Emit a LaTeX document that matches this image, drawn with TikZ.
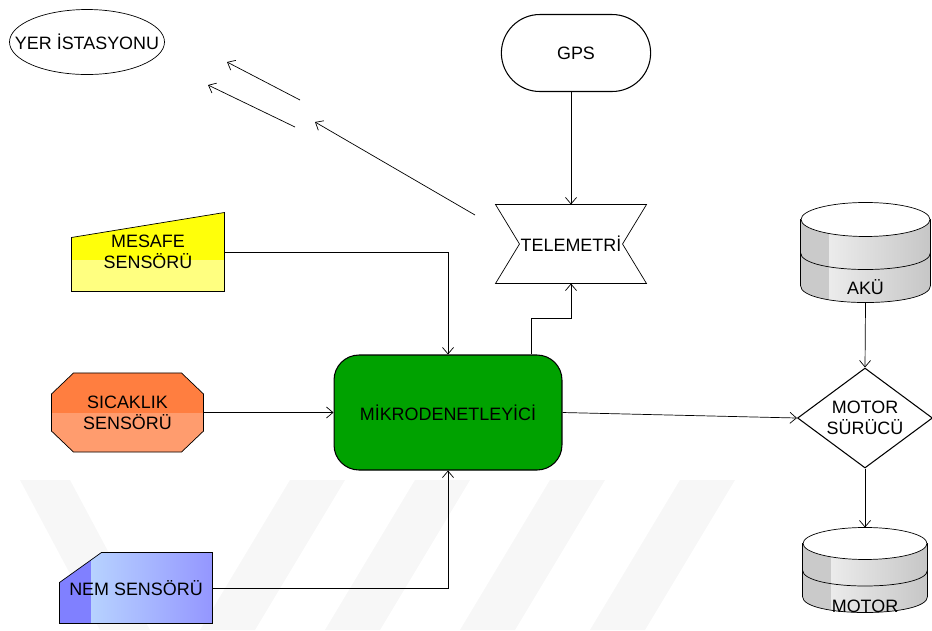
\documentclass[tikz,border=0pt]{standalone}
\usepackage{fontspec}
\setmainfont{Liberation Sans}
\usetikzlibrary{arrows.meta,shapes.geometric,shapes.misc,backgrounds}
\definecolor{mcugreen}{RGB}{0,162,0}
\definecolor{mesafetop}{RGB}{255,255,10}
\definecolor{mesafebot}{RGB}{255,255,128}
\definecolor{sicaktop}{RGB}{255,126,64}
\definecolor{sicakbot}{RGB}{255,156,110}
\definecolor{nemdark}{RGB}{128,128,255}
\definecolor{nemlight}{RGB}{192,226,255}
\definecolor{nemright}{RGB}{148,150,255}
\definecolor{drumdark}{RGB}{202,202,202}
\definecolor{drumlight}{RGB}{246,246,246}
\definecolor{drumgray}{RGB}{198,198,198}
\definecolor{bandgray}{RGB}{247,247,247}

% drum around a box node: #1 node, #2 half width, #3 ellipse half height
\newcommand\drum[3]{%
  \draw[fill=drumdark, path picture={
      \shade[left color=drumlight, right color=drumgray]
        ([xshift=0.58cm]path picture bounding box.south west) rectangle (path picture bounding box.north east);}]
    ([yshift=-#3]#1.north west) -- ([yshift=#3]#1.south west)
    .. controls ([yshift=-#3/3]#1.south west) and ([yshift=-#3/3]#1.south east) .. ([yshift=#3]#1.south east)
    -- ([yshift=-#3]#1.north east) -- cycle;
  \draw (#1.west) .. controls ([yshift=-4*#3/3]#1.west) and ([yshift=-4*#3/3]#1.east) .. (#1.east);
  \draw[fill=white] ([yshift=-#3]#1.north) ellipse [x radius=#2, y radius=#3];
}

\begin{document}
\begin{tikzpicture}[x=0.02cm, y=-0.02cm, line width=0.6pt,
  font=\fontsize{10.2}{12}\selectfont,
  shapebox/.style={align=center, inner sep=0pt},
  arr/.style={-{Straight Barb[length=1.3mm,width=2.2mm]}}
]
  \useasboundingbox (0,0) rectangle (932,630);

  \node[draw, fill=mcugreen, rounded corners=0.5cm, minimum width=4.56cm, minimum height=2.3cm] (mcu) at (448,412.5) {MİKRODENETLEYİCİ};
  \node[draw, rounded rectangle, minimum width=3.22cm, minimum height=1.54cm] (gps) at (576,53) {GPS};
  \node[shapebox, minimum width=3cm, minimum height=1.56cm] (tele) at (571,244) {TELEMETRİ};
  \node (yer) at (87,42) {YER İSTASYONU};
  \node[shapebox, minimum width=3.04cm, minimum height=1.56cm] (mesafe) at (148,252) {MESAFE\\SENSÖRÜ};
  \node[shapebox, minimum width=3.02cm, minimum height=1.56cm] (sicak) at (127.5,412.5) {SICAKLIK\\SENSÖRÜ};
  \node[shapebox, minimum width=3.04cm, minimum height=1.4cm] (nem) at (136,588) {NEM SENSÖRÜ};
  \node[draw, diamond, aspect=1.35, shapebox, minimum width=2.7cm, minimum height=2cm] (surucu) at (865,418) {MOTOR\\SÜRÜCÜ};
  \node[minimum width=2.58cm, minimum height=1.98cm] (aku) at (865.5,252.5) {};
  \node[minimum width=2.48cm, minimum height=1.68cm] (motor) at (865,570) {};
  \node (akuyazi) at ([yshift=0.3cm]aku.south) {AKÜ};
  \node (motoryazi) at ([yshift=0.12cm]motor.south) {MOTOR};

  \begin{pgfonlayer}{background}
    % faint bands at the bottom
    \fill[bandgray] (20,480) -- (70,480) -- (150,630) -- (100,630) -- cycle;
    \foreach \a in {290,415,550,680}
      \fill[bandgray] (\a,480) -- (\a+55,480) -- (\a-35,630) -- (\a-90,630) -- cycle;

    \draw[fill=mesafetop, path picture={\fill[mesafebot] ([yshift=0.64cm]mesafe.south west) rectangle (mesafe.south east);}]
      (mesafe.south west) -- ([yshift=-0.5cm]mesafe.north west) -- (mesafe.north east) -- (mesafe.south east) -- cycle;
    \draw[fill=sicaktop, path picture={\fill[sicakbot] (sicak.west) rectangle (sicak.south east);}]
      ([xshift=0.44cm]sicak.north west) -- ([xshift=-0.44cm]sicak.north east) -- ([yshift=-0.42cm]sicak.north east)
      -- ([yshift=0.42cm]sicak.south east) -- ([xshift=-0.44cm]sicak.south east) -- ([xshift=0.44cm]sicak.south west)
      -- ([yshift=0.42cm]sicak.south west) -- ([yshift=-0.42cm]sicak.north west) -- cycle;
    \draw[fill=nemdark, path picture={\shade[left color=nemlight, right color=nemright] ([xshift=0.64cm]nem.south west) rectangle (nem.north east);}]
      (nem.south west) -- ([yshift=-0.6cm]nem.north west) -- ([xshift=0.84cm]nem.north west) -- (nem.north east) -- (nem.south east) -- cycle;
    \draw (tele.north west) -- (tele.north east) -- ([xshift=-0.48cm]tele.east) -- (tele.south east)
      -- (tele.south west) -- ([xshift=0.48cm]tele.west) -- cycle;
    \draw (yer) ellipse [x radius=77.5, y radius=32.5];
    \drum{aku}{1.29cm}{0.34cm}
    \drum{motor}{1.24cm}{0.32cm}
  \end{pgfonlayer}

  \draw[arr] (gps.south -| tele.north) -- (tele.north);
  \draw[arr] (mesafe.east) -| (mcu.north);
  \draw[arr] (sicak.east) -- (sicak.east -| mcu.west);
  \draw[arr] (nem.east) -| (mcu.south);
  \draw[arr] ([xshift=1.66cm]mcu.north) -- ++(0,-36) -| (tele.south);
  \draw[arr] (mcu.east) -- (surucu.west);
  \draw[arr] (aku.south) -- (surucu.north);
  \draw[arr] (surucu.south) -- (motor.north);

  % links towards the ground station
  \draw[arr] (300,100) -- (227,62);
  \draw[arr] (295,127) -- (208,85);
  \draw[arr] (475,215) -- (315,122);
\end{tikzpicture}
\end{document}
